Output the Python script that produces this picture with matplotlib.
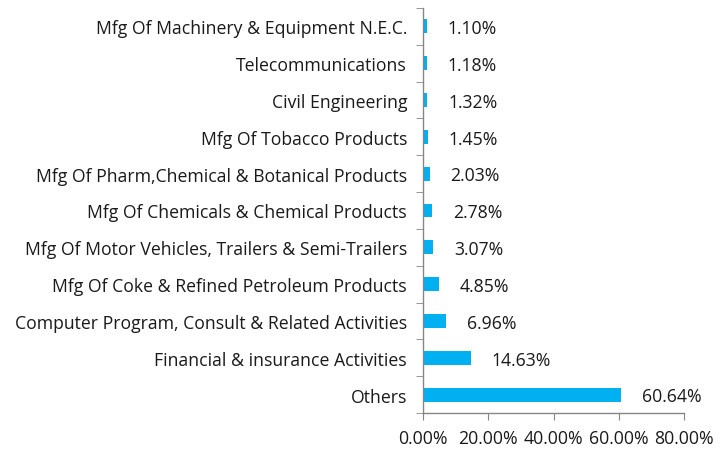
import matplotlib
matplotlib.use("Agg")
import matplotlib.pyplot as plt
import matplotlib.transforms as mtransforms
import numpy as np
from matplotlib.ticker import FixedLocator, FuncFormatter

categories = [
    "Others",
    "Financial & insurance Activities",
    "Computer Program, Consult & Related Activities",
    "Mfg Of Coke & Refined Petroleum Products",
    "Mfg Of Motor Vehicles, Trailers & Semi-Trailers",
    "Mfg Of Chemicals & Chemical Products",
    "Mfg Of Pharm,Chemical & Botanical Products",
    "Mfg Of Tobacco Products",
    "Civil Engineering",
    "Telecommunications",
    "Mfg Of Machinery & Equipment N.E.C.",
]
values = [60.64, 14.63, 6.96, 4.85, 3.07, 2.78, 2.03, 1.45, 1.32, 1.18, 1.10]
x_ticks = [0, 20, 40, 60, 80]

plt.rcParams['font.family'] = ['Open Sans', 'DejaVu Sans']
FS = 12.7

fig = plt.figure(figsize=(7.25, 4.5), dpi=100)
ax = fig.add_axes([423/725, 1 - 413/450, (684-423)/725, (413-8)/450])

y = np.arange(len(categories))
ax.barh(y, values, height=0.38, color="#00B0F0")
ax.set_ylim(-0.5, len(categories) - 0.5)
ax.set_xlim(0, 80)

for yi, v in zip(y, values):
    ax.annotate(f"{v:.2f}%", xy=(v, yi), xytext=(15, -2), textcoords="offset points",
                va="center", ha="left", fontsize=FS, color="#1a1a1a")

# category labels (drawn as text to allow a slight baseline offset)
ax.set_yticks(y)
ax.set_yticklabels([])
lab_tr = ax.get_yaxis_transform() + mtransforms.ScaledTranslation(-16/100, -3/100, fig.dpi_scale_trans)
for yi, c in zip(y, categories):
    ax.text(0, yi, c, transform=lab_tr, ha="right", va="center", fontsize=FS, color="#1a1a1a")
ax.yaxis.set_minor_locator(FixedLocator(np.arange(-0.5, len(categories), 1.0)))
ax.tick_params(axis="y", which="major", length=0)
ax.tick_params(axis="y", which="minor", length=5, color="#868686", direction="out")

ax.set_xticks(x_ticks)
ax.xaxis.set_major_formatter(FuncFormatter(lambda v, p: f"{v:.2f}%"))
ax.tick_params(axis="x", length=5, color="#868686", direction="out", labelsize=FS,
               labelcolor="#1a1a1a", pad=7.5)

for s in ["top", "right"]:
    ax.spines[s].set_visible(False)
for s in ["left", "bottom"]:
    ax.spines[s].set_color("#868686")
    ax.spines[s].set_linewidth(1.0)

fig.savefig("out.png", dpi=100)
